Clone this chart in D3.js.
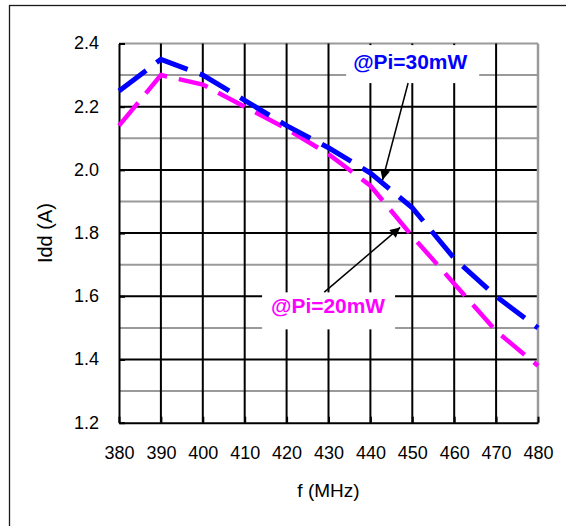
<!DOCTYPE html>
<html>
<head>
<meta charset="utf-8">
<script src="https://cdn.jsdelivr.net/npm/d3@7"></script>
<style>
  html, body { margin: 0; padding: 0; background: #fff; }
  svg { display: block; font-family: "Liberation Sans", Arial, sans-serif; }
</style>
</head>
<body>
<svg id="chart" width="566" height="526"></svg>
<script>
// Supply current vs. frequency for two input drive levels
const freqs = [380, 390, 400, 410, 420, 430, 440, 450, 460, 470, 480];
const idd30 = [2.25, 2.35, 2.30, 2.22, 2.14, 2.07, 1.99, 1.88, 1.72, 1.60, 1.50];
const idd20 = [2.14, 2.30, 2.27, 2.20, 2.13, 2.05, 1.95, 1.79, 1.64, 1.49, 1.38];
const xTicks = [380, 390, 400, 410, 420, 430, 440, 450, 460, 470, 480];
const yTicks = [1.2, 1.4, 1.6, 1.8, 2.0, 2.2, 2.4];
const yMinor = [1.3, 1.5, 1.7, 1.9, 2.1, 2.3];
const seriesNames = ["@Pi=30mW", "@Pi=20mW"];

const svg = d3.select("#chart");
const plotL = 119, plotR = 538, plotT = 43.5, plotB = 422.7;

const x = d3.scaleLinear().domain([380, 480]).range([plotL, plotR]);
const y = d3.scaleLinear().domain([1.2, 2.4]).range([plotB, plotT]);

// outer frame
svg.append("rect")
  .attr("x", 9.5).attr("y", 5.5)
  .attr("width", 600).attr("height", 600)
  .attr("fill", "none").attr("stroke", "#1a1a1a").attr("stroke-width", 1.3);

const grid = svg.append("g");
// minor horizontal grid (grey)
grid.selectAll(".hmin").data(yMinor.concat([2.4])).join("line")
  .attr("x1", plotL).attr("x2", plotR)
  .attr("y1", d => y(d)).attr("y2", d => y(d))
  .attr("stroke", "#9a9a9a").attr("stroke-width", 2);
// major horizontal grid (black)
grid.selectAll(".hmaj").data(yTicks.filter(d => d > 1.2 && d < 2.4)).join("line")
  .attr("x1", plotL).attr("x2", plotR)
  .attr("y1", d => y(d)).attr("y2", d => y(d))
  .attr("stroke", "#000").attr("stroke-width", 2);
// vertical grid
grid.selectAll(".v").data(xTicks.filter(d => d > 380 && d < 480)).join("line")
  .attr("x1", d => x(d)).attr("x2", d => x(d))
  .attr("y1", plotT).attr("y2", plotB)
  .attr("stroke", "#000").attr("stroke-width", 2);
// right edge of the plot area
grid.append("line")
  .attr("x1", plotR).attr("x2", plotR).attr("y1", plotT).attr("y2", plotB)
  .attr("stroke", "#9a9a9a").attr("stroke-width", 2.5);

// axes
const yAxis = d3.axisLeft(y).tickValues(yTicks).tickFormat(d3.format(".1f"))
  .tickSizeInner(-6).tickSizeOuter(0).tickPadding(20);
const xAxis = d3.axisBottom(x).tickValues(xTicks).tickFormat(d3.format("d"))
  .tickSizeInner(-6).tickSizeOuter(0).tickPadding(24);

const gy = svg.append("g").attr("transform", `translate(${plotL},0)`).call(yAxis);
const gx = svg.append("g").attr("transform", `translate(0,${plotB})`).call(xAxis);
[gx, gy].forEach(g => {
  g.select(".domain").attr("stroke", "#000").attr("stroke-width", 2);
  g.selectAll(".tick line").attr("stroke", "#000").attr("stroke-width", 2);
  g.selectAll(".tick text").attr("fill", "#000")
    .style("font-size", "18px").style("font-family", "Liberation Sans, Arial, sans-serif");
});
gy.selectAll(".tick text").attr("dy", "0.3em");
gx.selectAll(".tick text").attr("dy", "0.71em");

// axis titles
svg.append("text")
  .attr("transform", `translate(52,${(plotT + plotB) / 2}) rotate(-90)`)
  .attr("text-anchor", "middle")
  .style("font-size", "20px")
  .text("Idd (A)");
svg.append("text")
  .attr("x", (plotL + plotR) / 2).attr("y", 497)
  .attr("text-anchor", "middle")
  .style("font-size", "19px")
  .text("f (MHz)");

// series lines
const line = d3.line().x((d, i) => x(freqs[i])).y(d => y(d));
svg.append("path").datum(idd20)
  .attr("d", line).attr("fill", "none")
  .attr("stroke", "#ff00ff").attr("stroke-width", 4.5)
  .attr("stroke-dasharray", "30,12");
svg.append("path").datum(idd30)
  .attr("d", line).attr("fill", "none")
  .attr("stroke", "#0000ff").attr("stroke-width", 5)
  .attr("stroke-dasharray", "34,13");

// callouts
svg.append("defs").append("marker")
  .attr("id", "head").attr("viewBox", "0 0 10 10")
  .attr("refX", 10).attr("refY", 5)
  .attr("markerWidth", 11).attr("markerHeight", 10)
  .attr("markerUnits", "userSpaceOnUse")
  .attr("orient", "auto")
  .append("path").attr("d", "M0,0 L10,5 L0,10 Z").attr("fill", "#000");

const callouts = [
  { name: seriesNames[0], color: "#0000ff", tx: 449.5, ty: 2.319, box: [-64, -24, 133, 38],
    from: [449, 2.275], to: [442.9, 1.968] },
  { name: seriesNames[1], color: "#ff00ff", tx: 429.9, ty: 1.546, box: [-66, -21, 133, 37],
    from: [429, 1.613], to: [447.1, 1.818] }
];
callouts.forEach(c => {
  const cx = x(c.tx), cy = y(c.ty);
  svg.append("rect")
    .attr("x", cx + c.box[0]).attr("y", cy + c.box[1])
    .attr("width", c.box[2]).attr("height", c.box[3])
    .attr("fill", "#fff");
  svg.append("text")
    .attr("x", cx).attr("y", cy)
    .attr("text-anchor", "middle")
    .attr("textLength", 114).attr("lengthAdjust", "spacingAndGlyphs")
    .style("font-size", "20px").style("font-weight", "bold")
    .attr("fill", c.color)
    .text(c.name);
  svg.append("line")
    .attr("x1", x(c.from[0])).attr("y1", y(c.from[1]))
    .attr("x2", x(c.to[0])).attr("y2", y(c.to[1]))
    .attr("stroke", "#000").attr("stroke-width", 1.5)
    .attr("marker-end", "url(#head)");
});
</script>
</body>
</html>
